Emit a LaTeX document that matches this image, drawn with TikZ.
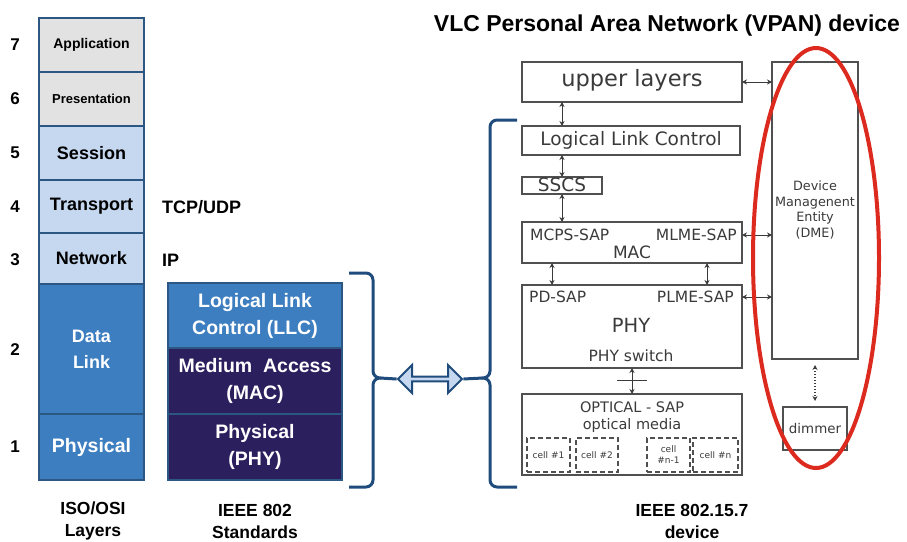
\documentclass[tikz,border=0pt]{standalone}
\usepackage{fontspec}
\setmainfont{Liberation Sans}
\newfontfamily\dv{DejaVu Sans}
\usetikzlibrary{shapes.geometric,shapes.arrows,calc,arrows.meta}
\definecolor{lgray}{HTML}{E2E2E2}
\definecolor{lblue}{HTML}{C5D8EF}
\definecolor{mblue}{HTML}{3D7EC0}
\definecolor{navy}{HTML}{2B1F5E}
\definecolor{bline}{HTML}{2C5783}
\definecolor{brc}{HTML}{1F4C7C}
\definecolor{gtext}{HTML}{3A3A3A}
\definecolor{gline}{HTML}{505050}
\definecolor{ered}{HTML}{DD2A1F}
\begin{document}
\begin{tikzpicture}[x=1pt,y=-1pt,
  osi/.style={draw=bline, line width=1.2pt, minimum width=105pt, inner sep=0pt, outer sep=0pt, align=center, font=\fontsize{18}{26}\selectfont\bfseries},
  ieee/.style={draw=bline, line width=1.2pt, minimum width=174pt, inner sep=0pt, outer sep=0pt, align=center, text=white, font=\fontsize{19.5}{27}\selectfont\bfseries},
  num/.style={font=\fontsize{17}{19}\selectfont\bfseries, inner sep=0pt},
  lbl/.style={font=\fontsize{17.5}{22}\selectfont\bfseries, align=center, inner sep=0pt},
  dbox/.style={draw=gline, line width=1.5pt, inner sep=0pt, outer sep=0pt},
  dtxt/.style={text=gtext, inner sep=0pt},
  cell/.style={draw=gline, line width=1.5pt, dash pattern=on 5pt off 3pt, inner sep=0pt, minimum height=34pt, align=center, text=gtext, font=\dv\fontsize{9}{11}\selectfont},
  dbl/.style={draw=gtext, line width=1pt, {Stealth[length=5pt,width=5pt]}-{Stealth[length=5pt,width=5pt]}},
  brace/.style={draw=brc, line width=3pt}]
\useasboundingbox (0,0) rectangle (907,541);

% OSI column
\node[osi, fill=lgray, minimum height=54pt, font=\fontsize{14}{16}\selectfont\bfseries] (app) at (91.5,45) {Application};
\node[osi, fill=lgray, minimum height=54pt, font=\fontsize{13}{16}\selectfont\bfseries] (pres) at (91.5,99) {Presentation};
\node[osi, fill=lblue, minimum height=54pt] (sess) at (91.5,153) {Session};
\node[osi, fill=lblue, minimum height=53pt] (trans) at (91.5,206.5) {Transport};
\node[osi, fill=lblue, minimum height=51pt] (net) at (91.5,258.5) {Network};
\node[osi, fill=mblue, text=white, minimum height=130pt] (dl) at (91.5,349) {Data\\Link};
\node[osi, fill=mblue, text=white, minimum height=66pt, font=\fontsize{19.5}{26}\selectfont\bfseries] (ph) at (91.5,447) {Physical};

\node[num] (n7) at (15,45) {7};
\node[num] (n6) at (15,99) {6};
\node[num] (n5) at (15,153) {5};
\node[num] (n4) at (15,207) {4};
\node[num] (n3) at (15,260) {3};
\node[num] (n2) at (15,350) {2};
\node[num] (n1) at (15,447) {1};

\node[num, font=\fontsize{18}{20}\selectfont\bfseries, anchor=west] (tcp) at (162,207) {TCP/UDP};
\node[num, font=\fontsize{18}{20}\selectfont\bfseries, anchor=west] (ip) at (162,260) {IP};

% IEEE 802 column
\node[ieee, fill=mblue, minimum height=65pt] (llc2) at (255,315.5) {Logical Link\\Control (LLC)};
\node[ieee, fill=navy, minimum height=66pt] (mac2) at (255,381) {Medium\ \ Access\\(MAC)};
\node[ieee, fill=navy, minimum height=66pt] (phy2) at (255,447) {Physical\\(PHY)};

% bottom labels
\node[lbl] (isol) at (93,521) {ISO/OSI\\Layers};
\node[lbl] (ieeel) at (255,521) {IEEE 802\\Standards};
\node[lbl] (vlcl) at (692,521) {IEEE 802.15.7\\device};

% title
\node[font=\fontsize{23}{25}\selectfont\bfseries, inner sep=0pt] (title) at (667,26) {VLC Personal Area Network (VPAN) device};

% braces
\coordinate (rbtip) at (380,378);
\coordinate (lbtip) at (483,378);
\draw[brace] (349,273) -- (366,273) to[out=0,in=90] (373,280) -- (373,371) to[out=-90,in=180] (rbtip) to[out=180,in=90] (373,385) -- (373,480) to[out=-90,in=0] (366,487) -- (349,487);
\draw[brace] (517,120) -- (497,120) to[out=180,in=90] (490,127) -- (490,371) to[out=-90,in=0] (lbtip) to[out=0,in=90] (490,385) -- (490,480) to[out=-90,in=180] (497,487) -- (517,487);

\node[double arrow, draw=brc, fill=lblue, line width=2pt, minimum height=64pt, minimum width=28pt, double arrow head extend=5pt, inner sep=0pt] (darr) at (430,379) {};
\draw[brace] (rbtip) -- (darr.west);
\draw[brace] (darr.east) -- (lbtip);

% VPAN device boxes
\node[dbox, minimum width=220pt, minimum height=40pt] (upper) at (632,82) {};
\node[dtxt, font=\dv\fontsize{22.5}{24}\selectfont] (uppert) at (632,80) {upper layers};
\node[dbox, minimum width=218pt, minimum height=29pt] (llc) at (631,140.5) {};
\node[dtxt, font=\dv\fontsize{18.5}{20}\selectfont] (llct) at (631,140) {Logical Link Control};
\node[dbox, minimum width=80pt, minimum height=17pt] (sscs) at (562,185.5) {};
\node[dtxt, font=\dv\fontsize{18.5}{20}\selectfont] (sscst) at (562,185) {SSCS};
\node[dbox, minimum width=220pt, minimum height=41pt] (mac) at (632,242.5) {};
\node[dtxt, font=\dv\fontsize{15.5}{18}\selectfont, anchor=west] (mcps) at (530,235) {MCPS-SAP};
\node[dtxt, font=\dv\fontsize{15.5}{18}\selectfont, anchor=east] (mlme) at (737,235) {MLME-SAP};
\node[dtxt, font=\dv\fontsize{17}{18}\selectfont] (mact) at (632,252) {MAC};
\node[dbox, minimum width=220pt, minimum height=83pt] (phy) at (632,326.5) {};
\node[dtxt, font=\dv\fontsize{15.5}{18}\selectfont, anchor=west] (pdsap) at (529,297) {PD-SAP};
\node[dtxt, font=\dv\fontsize{15.5}{18}\selectfont, anchor=east] (plme) at (734,297) {PLME-SAP};
\node[dtxt, font=\dv\fontsize{19.5}{20}\selectfont] (phyt) at (631,325) {PHY};
\node[dtxt, font=\dv\fontsize{15.5}{18}\selectfont] (physw) at (631,356) {PHY switch};
\node[dbox, minimum width=220pt, minimum height=81pt] (opt) at (632,434.5) {};
\node[dtxt, font=\dv\fontsize{14.5}{16}\selectfont] (optsap) at (632,407) {OPTICAL - SAP};
\node[dtxt, font=\dv\fontsize{14.5}{16}\selectfont] (optm) at (632,425) {optical media};
\node[cell, minimum width=43pt] (c1) at (548.5,455) {cell \#1};
\node[cell, minimum width=42pt] (c2) at (597,455) {cell \#2};
\node[cell, minimum width=43pt] (cn1) at (668.5,455) {cell\\\#n-1};
\node[cell, minimum width=45pt] (cn) at (715.5,455) {cell \#n};
\node[dbox, minimum width=86pt, minimum height=297pt] (dme) at (815,210.5) {};
\node[dtxt, align=center, font=\dv\fontsize{12.8}{15.7}\selectfont] (dmet) at (815,210) {Device\\Managenent\\Entity\\(DME)};
\node[dbox, minimum width=64pt, minimum height=43pt] (dim) at (815,428.5) {};
\node[dtxt, font=\dv\fontsize{13.4}{15}\selectfont] (dimt) at (815,428) {dimmer};

% arrows
\draw[dbl] ($(upper.south west)+(40,0)$) -- ($(llc.north west)+(40,0)$);
\draw[dbl] ($(llc.south west)+(40,0)$) -- ($(sscs.north west)+(40,0)$);
\draw[dbl] ($(sscs.south west)+(40,0)$) -- ($(mac.north west)+(40,0)$);
\draw[dbl] ($(mac.south west)+(30,0)$) -- ($(phy.north west)+(30,0)$);
\draw[dbl] ($(mac.south west)+(185,0)$) -- ($(phy.north west)+(185,0)$);
\draw[dbl] (phy.south) -- (opt.north);
\draw[draw=gtext, line width=1pt] ($(phy.south)+(-15,12)$) -- ($(phy.south)+(15,12)$);
\draw[dbl] (upper.east) -- (upper.east -| dme.west);
\draw[dbl] (mlme.east -| mac.east) -- (mlme.east -| dme.west);
\draw[dbl] (plme.east -| phy.east) -- (plme.east -| dme.west);
\draw[dbl, dotted, line width=1.3pt, shorten >=6pt, shorten <=6pt] (dme.south) -- (dim.north);

% red ellipse
\node[ellipse, draw=ered, line width=4pt, minimum width=126pt, minimum height=420pt, inner sep=0pt] (ring) at (816,258) {};
\end{tikzpicture}
\end{document}
